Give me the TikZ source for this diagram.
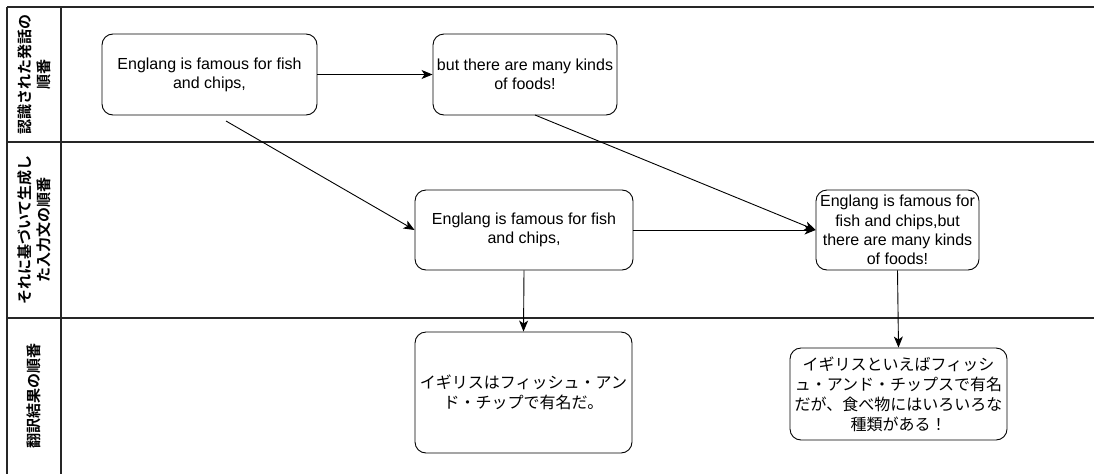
\documentclass[tikz,border=0pt]{standalone}
\usepackage{fontspec}
\setmainfont{Liberation Sans}
\newfontfamily\cjk{Noto Sans CJK JP}
\newfontfamily\cjkbold{Noto Sans CJK JP Bold}
\usetikzlibrary{arrows.meta,calc}
\tikzset{
  box/.style={draw=black, line width=0.9pt, rounded corners=11pt, inner sep=0pt, align=center,
              font=\fontsize{16}{19.2}\selectfont},
  conn/.style={draw=black, line width=0.9pt, -{Stealth[length=11pt,width=9pt,inset=3pt]}},
  lane/.style={draw=black!85, line width=1.2pt},
  lanelabel/.style={rotate=90, align=center, inner sep=0pt, font=\cjkbold\fontsize{15}{19}\selectfont}
}
\begin{document}
\begin{tikzpicture}[x=1pt,y=-1pt]
\useasboundingbox (0,0) rectangle (1094,474);
% swimlanes
\draw[lane] (7,7) -- (1094,7);
\draw[lane] (7,142) -- (1094,142);
\draw[lane] (7,318) -- (1094,318);
\draw[lane] (7,7) -- (7,474);
\draw[lane] (61,7) -- (61,474);
\node[lanelabel] (l1) at (34,74.5) {認識された発話の\\順番};
\node[lanelabel] (l2) at (34,230) {それに基づいて生成し\\た入力文の順番};
\node[lanelabel] (l3) at (34,396) {翻訳結果の順番};
% boxes
\node[box, minimum width=215pt, minimum height=81pt] (A) at (209.5,74.5) {Englang is famous for fish\\and chips,};
\node[box, minimum width=184pt, minimum height=81pt] (B) at (525,74.5) {but there are many kinds\\of foods!};
\node[box, minimum width=218pt, minimum height=80pt] (C) at (524,230) {Englang is famous for fish\\and chips,};
\node[box, minimum width=163pt, minimum height=80pt] (D) at (897.5,230) {Englang is famous for\\fish and chips,but\\there are many kinds\\of foods!};
\node[box, minimum width=217pt, minimum height=121pt, font=\cjk\fontsize{16}{20}\selectfont] (E) at (523.5,392.5) {イギリスはフィッシュ・アン\\ド・チップで有名だ。};
\node[box, minimum width=217pt, minimum height=92pt, font=\cjk\fontsize{16}{20}\selectfont] (F) at (898.5,394) {イギリスといえばフィッシ\\ュ・アンド・チップスで有名\\だが、食べ物にはいろいろな\\種類がある！};
% connectors
\coordinate (a1) at (226,121);
\coordinate (b1) at (535,115);
\draw[conn] (A.east) -- (B.west);
\draw[conn] (a1) -- (C.west);
\draw[conn] (b1) -- (D.west);
\draw[conn] (C.east) -- (D.west);
\draw[conn] (C.south) -- (E.north);
\draw[conn] (D.south) -- (F.north);
\end{tikzpicture}
\end{document}
